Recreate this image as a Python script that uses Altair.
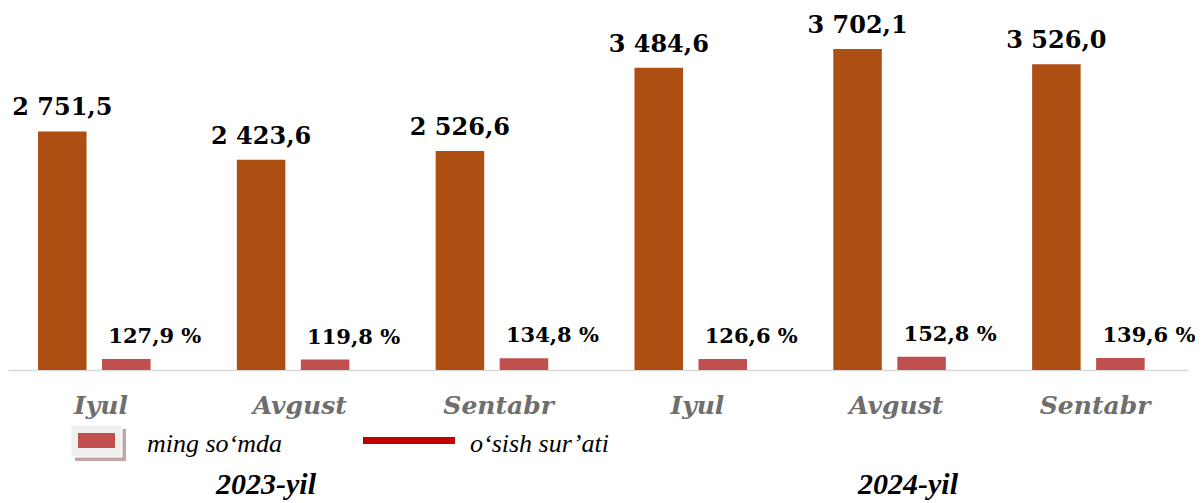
import altair as alt
import pandas as pd

# ---- data ----
months = ["Iyul", "Avgust", "Sentabr", "Iyul", "Avgust", "Sentabr"]
years = ["2023", "2023", "2023", "2024", "2024", "2024"]
amounts = [2751.5, 2423.6, 2526.6, 3484.6, 3702.1, 3526.0]
growth = [127.9, 119.8, 134.8, 126.6, 152.8, 139.6]

series_names = ["ming so\u2018mda", "o\u2018sish sur\u2019ati"]
year_labels = ["2023-yil", "2024-yil"]

colors = ["#AD4F13", "#C0504D"]


def fmt_amount(v):
    return f"{v:,.1f}".replace(",", " ").replace(".", ",")


def fmt_pct(v):
    return f"{v:.1f}".replace(".", ",") + " %"


rows = []
keys = []
for m, yr, a, g in zip(months, years, amounts, growth):
    k = f"{yr}|{m}"
    keys.append(k)
    rows.append({"key": k, "series": series_names[0], "value": a, "label": fmt_amount(a)})
    rows.append({"key": k, "series": series_names[1], "value": g, "label": fmt_pct(g)})
df = pd.DataFrame(rows)

x = alt.X(
    "key:N",
    sort=keys,
    scale=alt.Scale(paddingInner=0.367, paddingOuter=0.151),
    axis=alt.Axis(
        title=None,
        labelExpr="split(datum.value, '|')[1]",
        labelAngle=0,
        ticks=False,
        tickSize=0,
        labelPadding=43,
        labelBaseline="alphabetic",
        labelFont="DejaVu Serif",
        labelFontSize=25,
        labelFontWeight="bold",
        labelFontStyle="italic",
        labelColor="#6e6e6e",
        domainColor="#d9d9d9",
        domainWidth=1.5,
        grid=False,
    ),
)
xo = alt.XOffset(
    "series:N",
    scale=alt.Scale(domain=series_names, paddingInner=0.242, paddingOuter=0.104, align=0),
)
y = alt.Y("value:Q", scale=alt.Scale(domain=[0, 4175], nice=False), axis=None)
color = alt.Color("series:N", scale=alt.Scale(domain=series_names, range=colors), legend=None)

base = alt.Chart(df)
bars = base.mark_bar().encode(x=x, xOffset=xo, y=y, color=color)

amount_text = base.transform_filter(alt.datum.series == series_names[0]).mark_text(
    dy=-16, baseline="alphabetic", font="DejaVu Serif", fontSize=24, fontWeight="bold", color="black"
).encode(x=x, xOffset=xo, y=y, text="label:N")

pct_text = base.transform_filter(alt.datum.series == series_names[1]).mark_text(
    align="left", dx=-18, dy=-16, baseline="alphabetic", font="DejaVu Serif", fontSize=21,
    fontWeight="bold", color="black"
).encode(x=x, xOffset=xo, y=y, text="label:N")

one = alt.Chart(pd.DataFrame({"a": [0]}))

SERIF = "'Liberation Serif', 'Times New Roman', serif"

# legend decorations
leg_shadow = one.mark_rect(color="#c3a5a5").encode(
    x=alt.value(67), x2=alt.value(118), y=alt.value(421), y2=alt.value(453))
leg_box = one.mark_rect(color="#efefef", stroke="white", strokeWidth=1).encode(
    x=alt.value(63), x2=alt.value(114), y=alt.value(417), y2=alt.value(449))
leg_red = one.mark_rect(color=colors[1]).encode(
    x=alt.value(70), x2=alt.value(107), y=alt.value(425), y2=alt.value(440))
leg_line = one.mark_rule(color="#C00000", strokeWidth=7).encode(
    x=alt.value(355), x2=alt.value(447), y=alt.value(432.5))
leg_t1 = one.mark_text(align="left", baseline="alphabetic", font=SERIF,
                       fontSize=26, fontStyle="italic", color="black").encode(
    x=alt.value(139), y=alt.value(444), text=alt.value(series_names[0]))
leg_t2 = one.mark_text(align="left", baseline="alphabetic", font=SERIF,
                       fontSize=26, fontStyle="italic", color="black").encode(
    x=alt.value(462), y=alt.value(444), text=alt.value(series_names[1]))

yr1 = one.mark_text(align="center", baseline="alphabetic", font=SERIF,
                    fontSize=30, fontStyle="italic", fontWeight="bold", color="black").encode(
    x=alt.value(258), y=alt.value(486), text=alt.value(year_labels[0]))
yr2 = one.mark_text(align="center", baseline="alphabetic", font=SERIF,
                    fontSize=30, fontStyle="italic", fontWeight="bold", color="black").encode(
    x=alt.value(900), y=alt.value(486), text=alt.value(year_labels[1]))

chart = alt.layer(
    bars, amount_text, pct_text,
    leg_shadow, leg_box, leg_red, leg_line, leg_t1, leg_t2, yr1, yr2,
).properties(
    width=1180,
    height=362,
    autosize=alt.AutoSizeParams(type="none"),
    padding={"left": 0, "top": 0, "right": 7, "bottom": 133},
).configure_view(stroke=None)

chart.save("out.html", embed_options={"renderer": "svg", "actions": False})
